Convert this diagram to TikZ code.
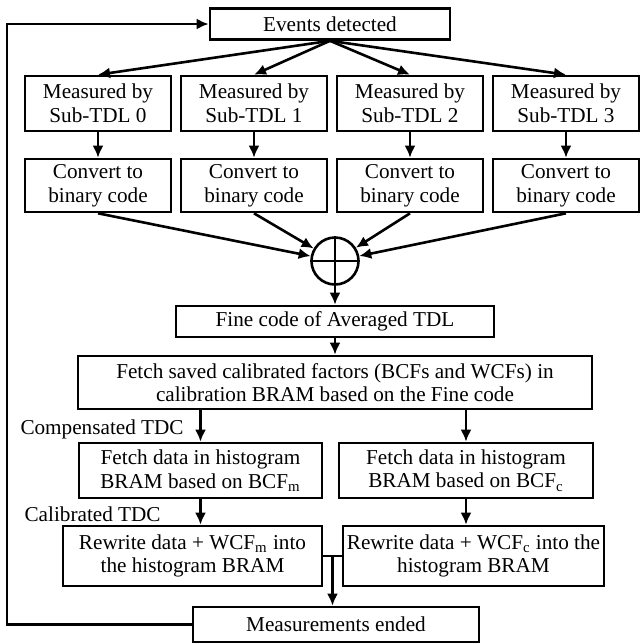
\documentclass[tikz,border=0pt]{standalone}
\usepackage{fontspec}
\setmainfont{Liberation Serif}
\usepackage{tikz}
\usetikzlibrary{positioning,arrows.meta,calc}

\newcommand{\boxfont}{\fontsize{10.6}{11.85}\selectfont}

\begin{document}
\begin{tikzpicture}[
x=0.5pt, y=-0.5pt,
box/.style={draw, line width=1.3pt, align=center, inner sep=1pt, font=\boxfont},
sumnode/.style={draw, circle, line width=1.3pt, minimum size=23.5pt, inner sep=0pt},
lbl/.style={inner sep=0pt, font=\boxfont},
arrow/.style={-{Latex[length=6pt, width=5.5pt]}, line width=1.3pt},
line/.style={line width=1.3pt}
]
\useasboundingbox (0,0) rectangle (640,644);

% top
\node[box, minimum width=120pt, minimum height=15.5pt] (events) at (330,24) {Events detected};

% sub-TDLs
\node[box, minimum width=73pt, minimum height=27.5pt] (meas0) at (98,103.5) {Measured by\\Sub-TDL 0};
\node[box, minimum width=73pt, minimum height=27.5pt] (meas1) at (254,103.5) {Measured by\\Sub-TDL 1};
\node[box, minimum width=73pt, minimum height=27.5pt] (meas2) at (410,103.5) {Measured by\\Sub-TDL 2};
\node[box, minimum width=73pt, minimum height=27.5pt] (meas3) at (566,103.5) {Measured by\\Sub-TDL 3};

\node[box, minimum width=73pt, minimum height=26.5pt] (conv0) at (98,185.5) {Convert to\\binary code};
\node[box, minimum width=73pt, minimum height=26.5pt] (conv1) at (254,185.5) {Convert to\\binary code};
\node[box, minimum width=73pt, minimum height=26.5pt] (conv2) at (410,185.5) {Convert to\\binary code};
\node[box, minimum width=73pt, minimum height=26.5pt] (conv3) at (566,185.5) {Convert to\\binary code};

% adder
\node[sumnode] (sum) at (335,261) {};
\draw[line] (sum.north) -- (sum.south) (sum.west) -- (sum.east);

\node[box, minimum width=159pt, minimum height=15.5pt] (fine) at (335,321.5) {Fine code of Averaged TDL};
\node[box, minimum width=257pt, minimum height=26.5pt] (fetch) at (335,382.5) {Fetch saved calibrated factors (BCFs and WCFs) in\\calibration BRAM based on the Fine code};

% two branches
\node[box, minimum width=121.5pt, minimum height=27.5pt] (histm) at (200.5,470.5) {Fetch data in histogram\\BRAM based on BCF\textsubscript{m}};
\node[box, minimum width=127pt, minimum height=27.5pt] (histc) at (466,470.5) {Fetch data in histogram\\BRAM based on BCF\textsubscript{c}};
\node[box, minimum width=129.5pt, minimum height=30pt] (rewm) at (192.5,556) {Rewrite data + WCF\textsubscript{m} into\\the histogram BRAM};
\node[box, minimum width=130.5pt, minimum height=30pt] (rewc) at (473.5,556) {Rewrite data + WCF\textsubscript{c} into the\\histogram BRAM};

\node[box, minimum width=143pt, minimum height=17.5pt] (ended) at (336,624.5) {Measurements ended};

\node[lbl, anchor=east] (comp) at (184,429) {Compensated TDC};
\node[lbl, anchor=east] (cali) at (161,514) {Calibrated TDC};

\coordinate (loop) at (7,0);
\coordinate (join) at ($(rewm.east)!0.5!(rewc.west)$);

% connectors
\draw[arrow] (events.south) -- (meas0.north);
\draw[arrow] (events.south) -- (meas1.north);
\draw[arrow] (events.south) -- (meas2.north);
\draw[arrow] (events.south) -- (meas3.north);
\draw[arrow] (meas0) -- (conv0);
\draw[arrow] (meas1) -- (conv1);
\draw[arrow] (meas2) -- (conv2);
\draw[arrow] (meas3) -- (conv3);
\draw[arrow] (conv0.south) -- (sum);
\draw[arrow] (conv1.south) -- (sum);
\draw[arrow] (conv2.south) -- (sum);
\draw[arrow] (conv3.south) -- (sum);
\draw[arrow] (sum) -- (fine);
\draw[arrow] (fine) -- (fetch);
\draw[arrow] (histm.north |- fetch.south) -- (histm.north);
\draw[arrow] (histc.north |- fetch.south) -- (histc.north);
\draw[arrow] (histm.south) -- (histm.south |- rewm.north);
\draw[arrow] (histc.south) -- (histc.south |- rewc.north);
\draw[line] (rewm.east) -- (rewc.west);
\draw[arrow] (join) -- (join |- ended.north);
\draw[arrow] (ended.west) -- (ended.west -| loop) |- (events.west);
\end{tikzpicture}
\end{document}
